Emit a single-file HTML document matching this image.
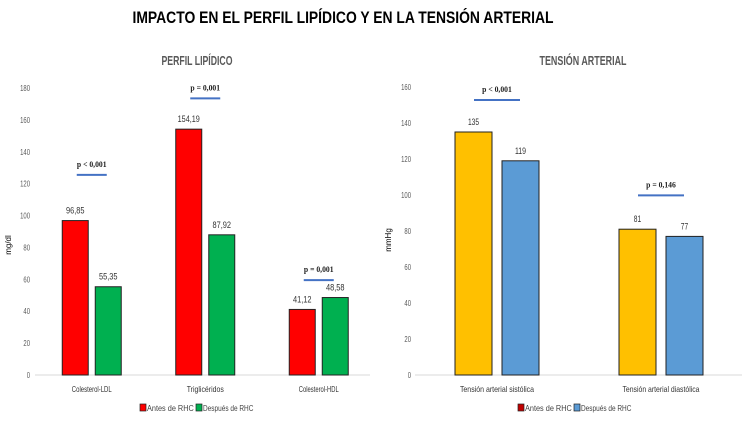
<!DOCTYPE html>
<html><head><meta charset="utf-8"><style>
html,body{margin:0;padding:0;background:#fff;}
svg{display:block;font-family:"Liberation Sans Narrow","Liberation Sans",sans-serif;}
</style></head><body>
<svg id="s" width="750" height="421" viewBox="0 0 750 421">
<text x="343" y="23" text-anchor="middle" font-family="Liberation Sans" font-weight="bold" font-size="17" textLength="421" lengthAdjust="spacingAndGlyphs" fill="#000">IMPACTO EN EL PERFIL LIPÍDICO Y EN LA TENSIÓN ARTERIAL</text>
<text x="197" y="65" text-anchor="middle" font-weight="bold" font-size="13" fill="#595959" textLength="71" lengthAdjust="spacingAndGlyphs">PERFIL LIPÍDICO</text>
<text x="583" y="65" text-anchor="middle" font-weight="bold" font-size="13" fill="#595959" textLength="87" lengthAdjust="spacingAndGlyphs">TENSIÓN ARTERIAL</text>
</svg>
<script>
const lipidCats=["Colesterol-LDL","Triglicéridos","Colesterol-HDL"];
const lipidBefore=[96.85,154.19,41.12];
const lipidAfter=[55.35,87.92,48.58];
const lipidBeforeLabels=["96,85","154,19","41,12"];
const lipidAfterLabels=["55,35","87,92","48,58"];
const lipidP=["p < 0,001","p = 0,001","p = 0,001"];
const lipidPVal=[128,176,62];
const lipidTicks=[0,20,40,60,80,100,120,140,160,180];
const bpCats=["Tensión arterial sistólica","Tensión arterial diastólica"];
const bpBefore=[135,81];
const bpAfter=[119,77];
const bpP=["p < 0,001","p = 0,146"];
const bpPVal=[155,102];
const bpTicks=[0,20,40,60,80,100,120,140,160];

const NS="http://www.w3.org/2000/svg";
const svg=document.getElementById('s');
function mk(tag,attrs,txt){const e=document.createElementNS(NS,tag);for(const k in attrs)e.setAttribute(k,attrs[k]);if(txt!==undefined)e.textContent=txt;svg.appendChild(e);return e;}
function nt(attrs,txt,per){attrs.textLength=(txt.length*per).toFixed(1);attrs.lengthAdjust='spacingAndGlyphs';return mk('text',attrs,txt);}

function chart(o){
  const y=v=>o.y0-(v/o.max)*(o.y0-o.yTop);
  const x=i=>o.x0+o.step*(i+0.5);
  let e;
  e=mk('line',{x1:o.x0,x2:o.x1,y1:o.y0,y2:o.y0,stroke:'#d9d9d9','stroke-width':1});
  
  
  o.ticks.forEach(t=>{
    e=nt({x:o.tickX,y:y(t)+3,'text-anchor':'end','font-size':8,fill:'#595959'},String(t),3.3);
    
    
  });
  e=mk('text',{x:0,y:0,'text-anchor':'middle','font-family':'Liberation Sans','font-size':8,fill:'#000',transform:`translate(${o.yTitleX},${o.yTitleY}) rotate(-90)`},o.yTitle);
  
  
  o.cats.forEach((c,i)=>{
    const cx=x(i);
    const b=o.before[i],a=o.after[i];
    e=mk('rect',{x:cx-o.gap/2-o.bw,y:y(b),width:o.bw,height:o.y0-y(b),fill:o.c1,stroke:'#222','stroke-width':1});
    
    
    e=mk('rect',{x:cx+o.gap/2,y:y(a),width:o.bw,height:o.y0-y(a),fill:o.c2,stroke:'#222','stroke-width':1});
    
    
    e=nt({x:cx-o.gap/2-o.bw/2,y:y(b)-7,'text-anchor':'middle','font-size':9,fill:'#333'},o.bl[i],3.7);
    
    
    e=nt({x:cx+o.gap/2+o.bw/2,y:y(a)-7,'text-anchor':'middle','font-size':9,fill:'#333'},o.al[i],3.7);
    
    
    e=nt({x:cx,y:o.y0+17,'text-anchor':'middle','font-size':8.5,fill:'#333'},c,2.85);
    
    
    const py=y(o.pv[i]);
    e=nt({x:cx,y:py-4,'text-anchor':'middle','font-family':'Liberation Serif','font-weight':'bold','font-size':8.5,fill:'#222'},o.p[i],3.3);
    
    
    e=mk('line',{x1:cx-o.pw/2,x2:cx+o.pw/2,y1:py+4,y2:py+4,stroke:'#4472c4','stroke-width':2});
    
    
  });
  const lx=o.legX;
  e=mk('rect',{x:lx-55,y:404,width:6,height:7,fill:o.s1,stroke:'#222','stroke-width':0.7});
  
  
  e=nt({x:lx-48,y:411,'font-size':8.5,fill:'#444'},'Antes de RHC',3.9);
  
  
  e=mk('rect',{x:lx+1,y:404,width:6,height:7,fill:o.c2,stroke:'#222','stroke-width':0.7});
  
  
  e=nt({x:lx+8,y:411,'font-size':8.5,fill:'#444'},'Después de RHC',3.6);
  
  
}

chart({id:'lipid',cats:lipidCats,before:lipidBefore,after:lipidAfter,bl:lipidBeforeLabels,al:lipidAfterLabels,p:lipidP,pv:lipidPVal,ticks:lipidTicks,
  max:180,y0:375,yTop:88,x0:35,x1:370,step:113.5,bw:26,gap:7,c1:'#ff0000',c2:'#00b050',s1:'#ff0000',tickX:30,yTitle:'mg/dl',yTitleX:11,yTitleY:245,pw:30,legX:195});
chart({id:'bp',cats:bpCats,before:bpBefore,after:bpAfter,bl:bpBefore.map(String),al:bpAfter.map(String),p:bpP,pv:bpPVal,ticks:bpTicks,
  max:160,y0:375,yTop:87,x0:415,x1:742,step:164,bw:37,gap:10,c1:'#ffc000',c2:'#5b9bd5',s1:'#c00000',tickX:411,yTitle:'mmHg',yTitleX:391,yTitleY:240,pw:46,legX:573});
</script>
</body></html>
